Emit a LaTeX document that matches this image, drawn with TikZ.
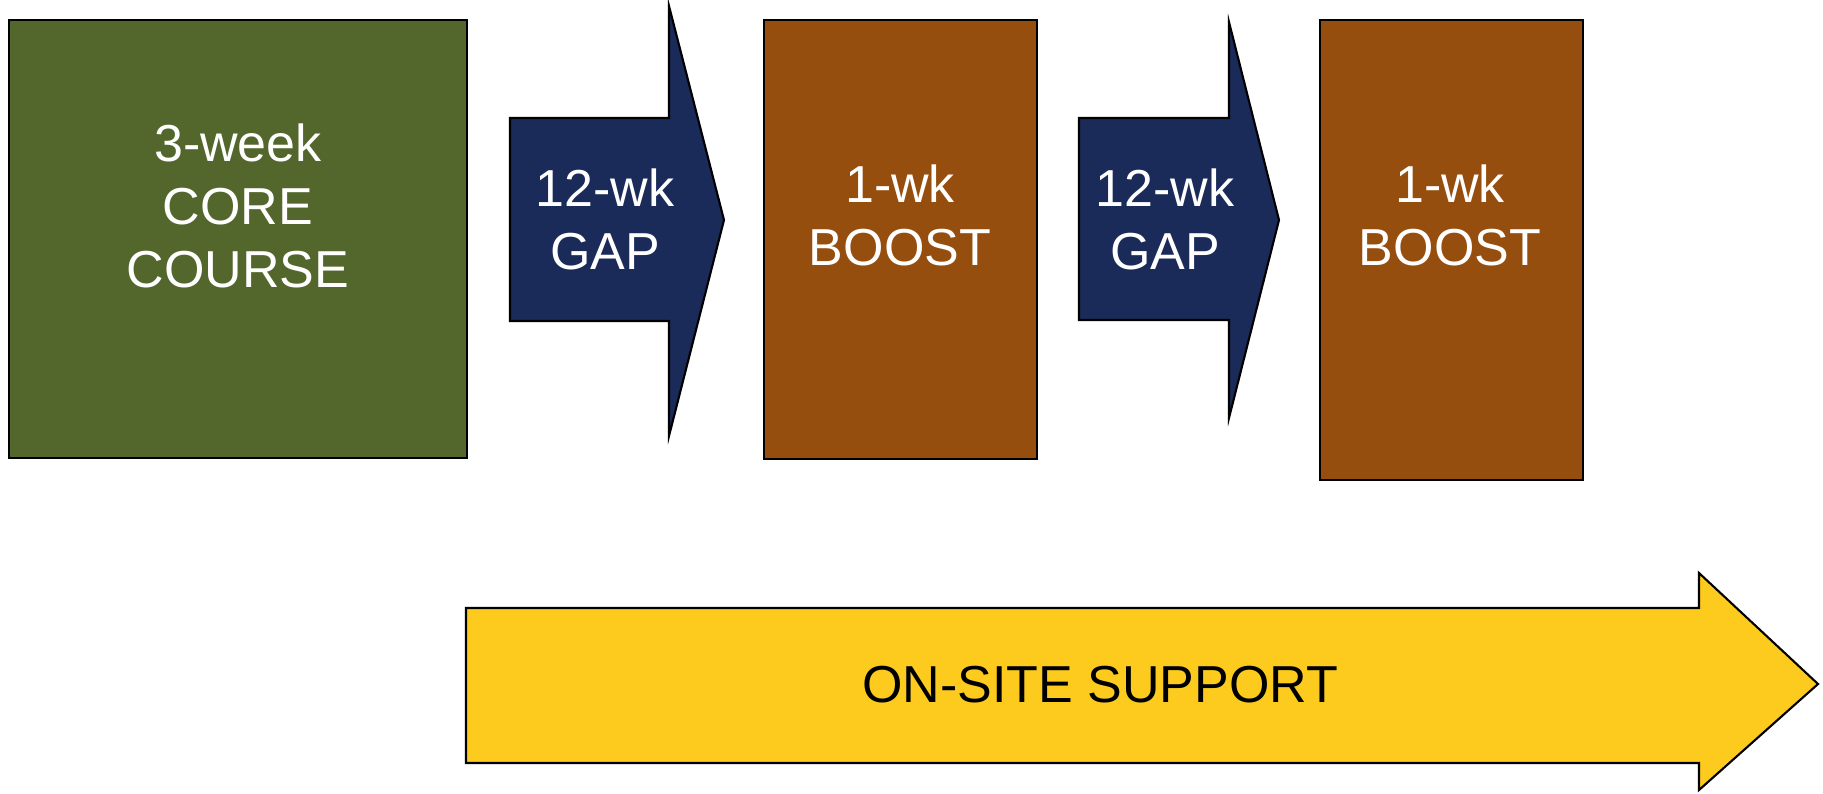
\documentclass[tikz,border=0pt]{standalone}
\usepackage{fontspec}
\setmainfont{Liberation Sans}
\usetikzlibrary{positioning}
\definecolor{coregreen}{RGB}{83,103,44}
\definecolor{boostbrown}{RGB}{150,78,14}
\definecolor{gapblue}{RGB}{27,43,89}
\definecolor{supportyellow}{RGB}{252,203,30}
\tikzstyle{block} = [draw=black, line width=1.2pt]
\tikzstyle{label} = [align=center, inner sep=0pt, font=\fontsize{29.6}{35.8}\selectfont]

\begin{document}
\begin{tikzpicture}[x=0.02cm, y=-0.02cm]
\useasboundingbox (0,0) rectangle (1823,794);
\draw[block, fill=coregreen] (9,20) rectangle (467,458);
\draw[block, fill=gapblue] (510,118) -- (669,118) -- (669,6) -- (724,220) -- (669,436) -- (669,321) -- (510,321) -- cycle;
\draw[block, fill=boostbrown] (764,20) rectangle (1037,459);
\draw[block, fill=gapblue] (1079,118) -- (1229,118) -- (1229,22) -- (1279,220) -- (1229,418) -- (1229,320) -- (1079,320) -- cycle;
\draw[block, fill=boostbrown] (1320,20) rectangle (1583,480);
\draw[block, fill=supportyellow] (466,608) -- (1699,608) -- (1699,573) -- (1818,684) -- (1699,790) -- (1699,763) -- (466,763) -- cycle;
\node[label, text=white] (core) at (238,206) {3-week\\CORE\\COURSE};
\node[label, text=white] (gapa) at (605,219) {12-wk\\GAP};
\node[label, text=white] (boosta) at (900,215) {1-wk\\BOOST};
\node[label, text=white] (gapb) at (1165,219) {12-wk\\GAP};
\node[label, text=white] (boostb) at (1450,215) {1-wk\\BOOST};
\node[label, text=black] (support) at (1100,685) {ON-SITE SUPPORT};
\end{tikzpicture}
\end{document}
